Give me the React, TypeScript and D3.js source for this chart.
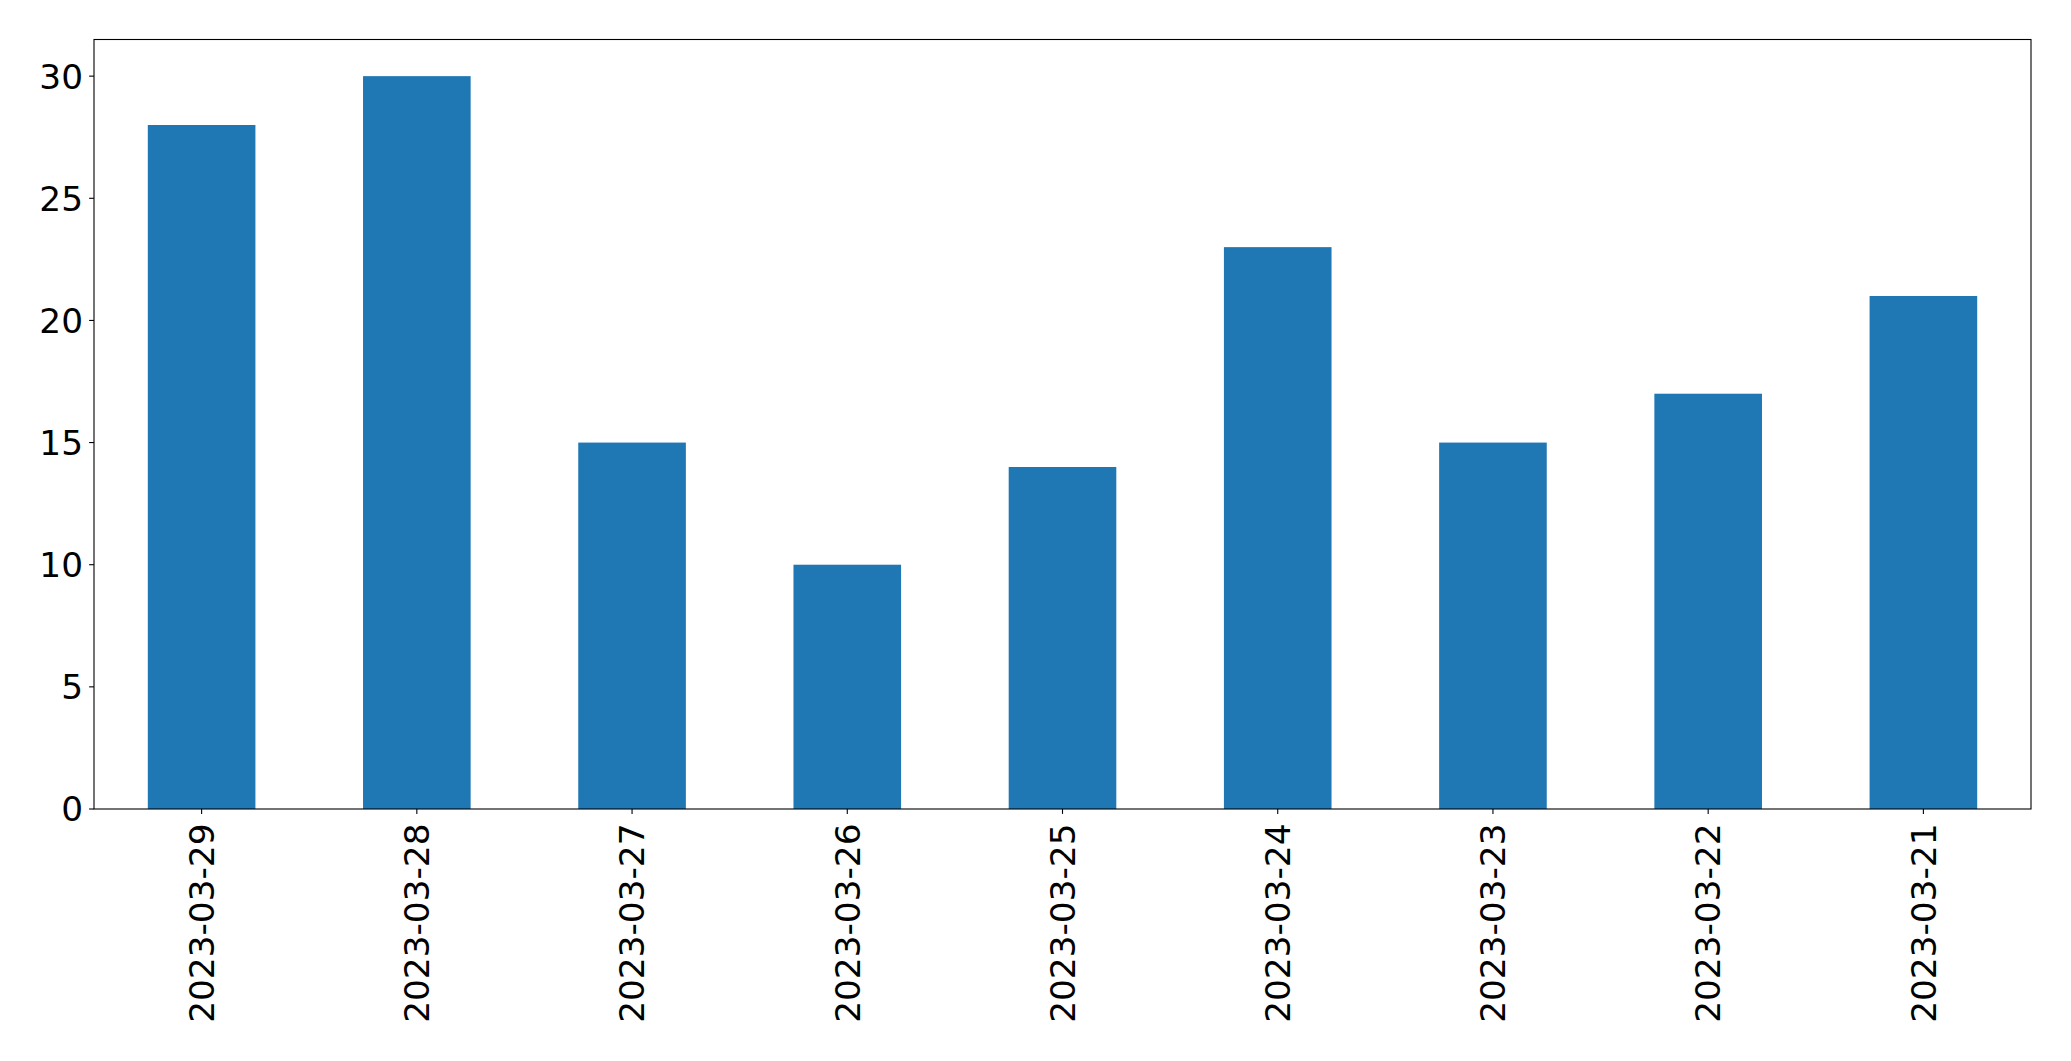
import React from "react";
import * as d3 from "d3";

const categories = ["2023-03-29", "2023-03-28", "2023-03-27", "2023-03-26", "2023-03-25", "2023-03-24", "2023-03-23", "2023-03-22", "2023-03-21"];
const values = [28, 30, 15, 10, 14, 23, 15, 17, 21];
const yTicks = [0, 5, 10, 15, 20, 25, 30];

const W = 2071;
const H = 1061;
const left = 94;
const right = 2031;
const top = 39.5;
const bottom = 809;

export default function App() {
  const x = d3.scaleBand<string>().domain(categories).range([left, right]).paddingInner(0.5).paddingOuter(0.25);
  const y = d3.scaleLinear().domain([0, 31.5]).range([bottom, top]);
  const font = "'DejaVu Sans', sans-serif";
  const fs = 34.3;
  return (
    <svg width={W} height={H} style={{ position: "absolute", left: 0, top: 0, background: "#fff" }}>
      <rect x={0} y={0} width={W} height={H} fill="#fff" />
      {categories.map((c, i) => (
        <rect key={c} x={x(c)} y={y(values[i])} width={x.bandwidth()} height={bottom - y(values[i])} fill="#1f77b4" />
      ))}
      <rect x={left} y={top} width={right - left} height={bottom - top} fill="none" stroke="#000" strokeWidth={1.1} />
      {yTicks.map((t) => (
        <g key={t} transform={`translate(0,${y(t)})`}>
          <line x1={left - 4.9} x2={left} stroke="#000" strokeWidth={1.1} />
          <text x={left - 11} dy="0.36em" textAnchor="end" fontFamily={font} fontSize={fs} fill="#000">{t}</text>
        </g>
      ))}
      {categories.map((c) => {
        const cx = (x(c) as number) + x.bandwidth() / 2;
        return (
          <g key={c} transform={`translate(${cx},${bottom})`}>
            <line y1={0} y2={4.9} stroke="#000" strokeWidth={1.1} />
            <text transform="translate(0,14.5) rotate(-90)" y={12.3} textAnchor="end" fontFamily={font} fontSize={fs} fill="#000">{c}</text>
          </g>
        );
      })}
    </svg>
  );
}
